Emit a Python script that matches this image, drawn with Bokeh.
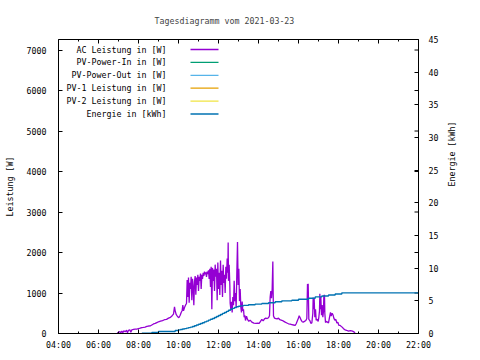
import math
from bokeh.plotting import figure
from bokeh.models import Range1d, LinearAxis, FixedTicker
from bokeh.core.properties import value
from bokeh.embed import file_html
from bokeh.resources import INLINE

# ---------------- data ----------------
title_text = "Tagesdiagramm vom 2021-03-23"
x_ticks = [4, 6, 8, 10, 12, 14, 16, 18, 20, 22]
x_tick_labels = ["04:00", "06:00", "08:00", "10:00", "12:00", "14:00", "16:00", "18:00", "20:00", "22:00"]
x_minor = list(range(4, 23))
y_ticks = [0, 1000, 2000, 3000, 4000, 5000, 6000, 7000]
y2_ticks = [0, 5, 10, 15, 20, 25, 30, 35, 40, 45]

ac_time = [
    "06:56", "07:00", "07:04", "07:06", "07:10", "07:13", "07:16", "07:20", "07:24", "07:27",
    "07:30", "07:34", "07:37", "07:40", "07:45", "07:50", "07:55", "08:00", "08:05", "08:10",
    "08:15", "08:20", "08:25", "08:30", "08:36", "08:40", "08:45", "08:50", "08:55", "09:00",
    "09:06", "09:12", "09:18", "09:24", "09:30", "09:36", "09:41", "09:45", "09:48", "09:50",
    "09:53", "09:57", "10:01", "10:05", "10:08", "10:11", "10:13", "10:15", "10:18", "10:21",
    "10:24", "10:26", "10:28", "10:30", "10:32", "10:34", "10:36", "10:38", "10:40", "10:42",
    "10:44", "10:46", "10:48", "10:50", "10:52", "10:54", "10:56", "10:58", "11:00", "11:02",
    "11:04", "11:06", "11:08", "11:10", "11:12", "11:14", "11:16", "11:18", "11:20", "11:22",
    "11:24", "11:26", "11:28", "11:30", "11:32", "11:34", "11:36", "11:38", "11:40", "11:42",
    "11:44", "11:46", "11:48", "11:50", "11:52", "11:54", "11:56", "11:58", "12:00", "12:02",
    "12:04", "12:06", "12:08", "12:10", "12:12", "12:14", "12:16", "12:18", "12:20", "12:22",
    "12:24", "12:26", "12:28", "12:29", "12:30", "12:32", "12:34", "12:35", "12:37", "12:39",
    "12:41", "12:43", "12:45", "12:47", "12:49", "12:51", "12:53", "12:55", "12:57", "12:59",
    "13:01", "13:03", "13:05", "13:07", "13:09", "13:11", "13:13", "13:15", "13:17", "13:19",
    "13:21", "13:24", "13:27", "13:31", "13:35", "13:40", "13:46", "13:52", "13:58", "14:02",
    "14:06", "14:10", "14:14", "14:18", "14:22", "14:26", "14:30", "14:33", "14:35", "14:37",
    "14:39", "14:41", "14:43", "14:44", "14:45", "14:48", "14:52", "14:56", "15:00", "15:04",
    "15:08", "15:12", "15:16", "15:20", "15:25", "15:30", "15:35", "15:40", "15:45", "15:50",
    "15:53", "15:56", "16:00", "16:02", "16:05", "16:08", "16:11", "16:14", "16:18", "16:22",
    "16:25", "16:27", "16:28", "16:29", "16:31", "16:34", "16:37", "16:40", "16:43", "16:44",
    "16:46", "16:47", "16:49", "16:51", "16:53", "16:56", "16:59", "17:01", "17:03", "17:04",
    "17:06", "17:07", "17:09", "17:11", "17:13", "17:15", "17:16", "17:18", "17:19", "17:21",
    "17:24", "17:27", "17:30", "17:33", "17:36", "17:38", "17:41", "17:44", "17:46", "17:49",
    "17:52", "17:55", "17:58", "18:01", "18:05", "18:09", "18:13", "18:16", "18:20", "18:24",
    "18:30", "18:36", "18:42", "18:46", "18:50",
]
ac_power = [
    20, 30, 50, 10, 60, 20, 70, 40, 80, 20,
    80, 90, 30, 90, 100, 110, 110, 120, 130, 145,
    150, 160, 175, 185, 190, 210, 235, 250, 270, 290,
    305, 320, 340, 350, 380, 400, 440, 480, 660, 560,
    470, 420, 390, 450, 520, 570, 700, 560, 640, 700,
    740, 1320, 900, 1380, 760, 1250, 1100, 1400, 820, 1350,
    1150, 700, 1280, 1420, 960, 1380, 1200, 1450, 1050, 1400,
    1300, 1480, 1100, 1450, 1350, 1500, 1420, 1530, 1460, 1510,
    1400, 1530, 1470, 1560, 1350, 1600, 1150, 1650, 600, 1620,
    1300, 1580, 1050, 1700, 1400, 1600, 820, 1750, 1100, 1500,
    950, 1800, 1200, 1550, 900, 1700, 1250, 1450, 1000, 1650,
    1350, 1850, 1500, 2250, 1300, 1700, 1200, 750, 600, 780,
    520, 900, 700, 1300, 800, 1000, 650, 1500, 2260, 1200,
    1600, 800, 1100, 650, 520, 790, 560, 600, 400, 450,
    320, 430, 350, 300, 330, 280, 255, 250, 255, 250,
    300, 350, 310, 360, 380, 370, 390, 440, 900, 1050,
    870, 1100, 1780, 1000, 430, 380, 370, 360, 380, 340,
    330, 320, 300, 280, 260, 240, 230, 220, 210, 200,
    240, 300, 380, 440, 390, 330, 290, 280, 300, 320,
    370, 1220, 900, 1230, 350, 320, 250, 260, 500, 890,
    600, 850, 400, 600, 330, 350, 300, 400, 560, 980,
    600, 900, 450, 700, 400, 550, 930, 950, 500, 270,
    300, 280, 260, 400, 520, 430, 500, 450, 380, 330,
    350, 260, 280, 200, 200, 170, 140, 110, 90, 80,
    60, 70, 60, 40, 20,
]

en_time = [
    "08:10", "08:40", "09:00", "09:50", "10:00", "10:06", "10:12", "10:18", "10:24", "10:30",
    "10:36", "10:42", "10:48", "10:54", "11:00", "11:06", "11:12", "11:18", "11:24", "11:30",
    "11:36", "11:42", "11:48", "11:54", "12:00", "12:06", "12:12", "12:18", "12:24", "12:30",
    "12:36", "12:42", "12:48", "12:54", "13:00", "13:06", "13:15", "13:30", "13:50", "14:10",
    "14:30", "14:50", "15:10", "15:40", "16:00", "16:30", "16:50", "17:10", "17:30", "17:50",
    "18:10", "22:00",
]
en_kwh = [
    0.05, 0.15, 0.3, 0.45, 0.56, 0.62, 0.68, 0.74, 0.82, 0.9,
    0.97, 1.06, 1.18, 1.3, 1.42, 1.53, 1.65, 1.78, 1.9, 2.05,
    2.18, 2.3, 2.45, 2.6, 2.75, 2.9, 3.08, 3.22, 3.38, 3.55,
    3.72, 3.85, 3.98, 4.1, 4.18, 4.23, 4.3, 4.4, 4.5, 4.6,
    4.7, 4.85, 5.0, 5.1, 5.25, 5.4, 5.6, 5.75, 5.9, 6.05,
    6.22, 6.22,
]

legend_labels = ["AC Leistung in [W]", "PV-Power-In in [W]", "PV-Power-Out in [W]",
                 "PV-1 Leistung in [W]", "PV-2 Leistung in [W]", "Energie in [kWh]"]
legend_colors = ["#9400D3", "#009E73", "#56B4E9", "#E69F00", "#F0E442", "#0072B2"]


def to_hours(t):
    h, m = t.split(":")
    return int(h) + int(m) / 60.0


ac_x = [to_hours(t) for t in ac_time]
en_x = [to_hours(t) for t in en_time]

# ---------------- layout ----------------
FONT = "DejaVu Sans Mono"
FS = "8.3px"
X0, X1 = 4, 22
Y0, Y1 = 0, 7260
W, H = 480, 360
BL, BR, BT, BB = 58, 62, 39, 27
FW, FH = W - BL - BR, H - BT - BB

p = figure(
    width=W, height=H,
    x_range=Range1d(X0, X1), y_range=Range1d(Y0, Y1),
    min_border_left=BL, min_border_right=BR, min_border_top=BT, min_border_bottom=BB,
    output_backend="svg", toolbar_location=None,
    x_axis_type=None, y_axis_type=None,
    background_fill_color="white", border_fill_color="white",
)
p.extra_y_ranges = {"energy": Range1d(0, 45)}
p.xgrid.visible = False
p.ygrid.visible = False
p.outline_line_color = "black"
p.outline_line_width = 1

p.title.text = title_text
p.title.text_font = FONT
p.title.text_font_size = FS
p.title.text_font_style = "normal"
p.title.align = "left"
p.title.offset = 96
p.title.standoff = 27


def style(ax):
    ax.axis_line_color = "black"
    ax.major_tick_line_color = "black"
    ax.minor_tick_line_color = "black"
    ax.major_tick_in = 4
    ax.major_tick_out = 0
    ax.minor_tick_in = 2
    ax.minor_tick_out = 0
    ax.major_label_text_font = FONT
    ax.major_label_text_font_size = FS
    ax.major_label_text_color = "black"
    ax.axis_label_text_font = FONT
    ax.axis_label_text_font_size = FS
    ax.axis_label_text_font_style = "normal"
    ax.axis_label_text_color = "black"


# bottom x axis
xb = LinearAxis(ticker=FixedTicker(ticks=x_ticks, minor_ticks=x_minor))
style(xb)
xb.major_label_overrides = {t: l for t, l in zip(x_ticks, x_tick_labels)}
xb.major_label_standoff = 6
p.add_layout(xb, "below")

# left y axis
yl = LinearAxis(ticker=FixedTicker(ticks=y_ticks, minor_ticks=[]), axis_label="Leistung [W]")
style(yl)
yl.major_label_standoff = 12
yl.axis_label_standoff = 9
p.add_layout(yl, "left")

# right energy axis
yr = LinearAxis(y_range_name="energy", ticker=FixedTicker(ticks=y2_ticks, minor_ticks=[]),
                axis_label="Energie [kWh]")
style(yr)
yr.major_label_standoff = 10
yr.axis_label_standoff = 11
yr.axis_label_orientation = math.pi / 2
p.add_layout(yr, "right")

# pixel -> data helpers (for decorations only)
dx = (X1 - X0) / FW
dy = (Y1 - Y0) / FH


def px_x(px):
    return X0 + (px - BL) * dx


def px_y(py):
    return Y0 + (H - BB - py) * dy


# mirrored ticks: top border (x ticks) and right border (left-axis ticks), pointing inwards
top_x = x_ticks + [m for m in x_minor if m not in x_ticks]
top_len = [4 * dy] * len(x_ticks) + [2 * dy] * (len(top_x) - len(x_ticks))
p.segment(x0=top_x, x1=top_x, y0=[Y1] * len(top_x), y1=[Y1 - l for l in top_len],
          line_color="black", line_width=1)
p.segment(x0=[X1] * len(y_ticks), x1=[X1 - 4 * dx] * len(y_ticks), y0=y_ticks, y1=y_ticks,
          line_color="black", line_width=1)

# ---------------- series ----------------
p.line(ac_x, ac_power, line_color=legend_colors[0], line_width=1.3)
p.step(en_x, en_kwh, mode="after", line_color=legend_colors[5], line_width=1.4,
       y_range_name="energy")

# ---------------- key (gnuplot style: text right, sample line) ----------------
rows = [49 + 12.9 * i for i in range(len(legend_labels))]
p.text(x=[px_x(166)] * len(rows), y=[px_y(r) for r in rows], text=legend_labels,
       text_align="right", text_baseline="middle", text_font=value(FONT),
       text_font_size=value(FS), text_color="black")
p.segment(x0=[px_x(190)] * len(rows), x1=[px_x(218)] * len(rows),
          y0=[px_y(r) for r in rows], y1=[px_y(r) for r in rows],
          line_color=legend_colors, line_width=1.3)

open("out.html", "w").write(file_html(p, INLINE))
